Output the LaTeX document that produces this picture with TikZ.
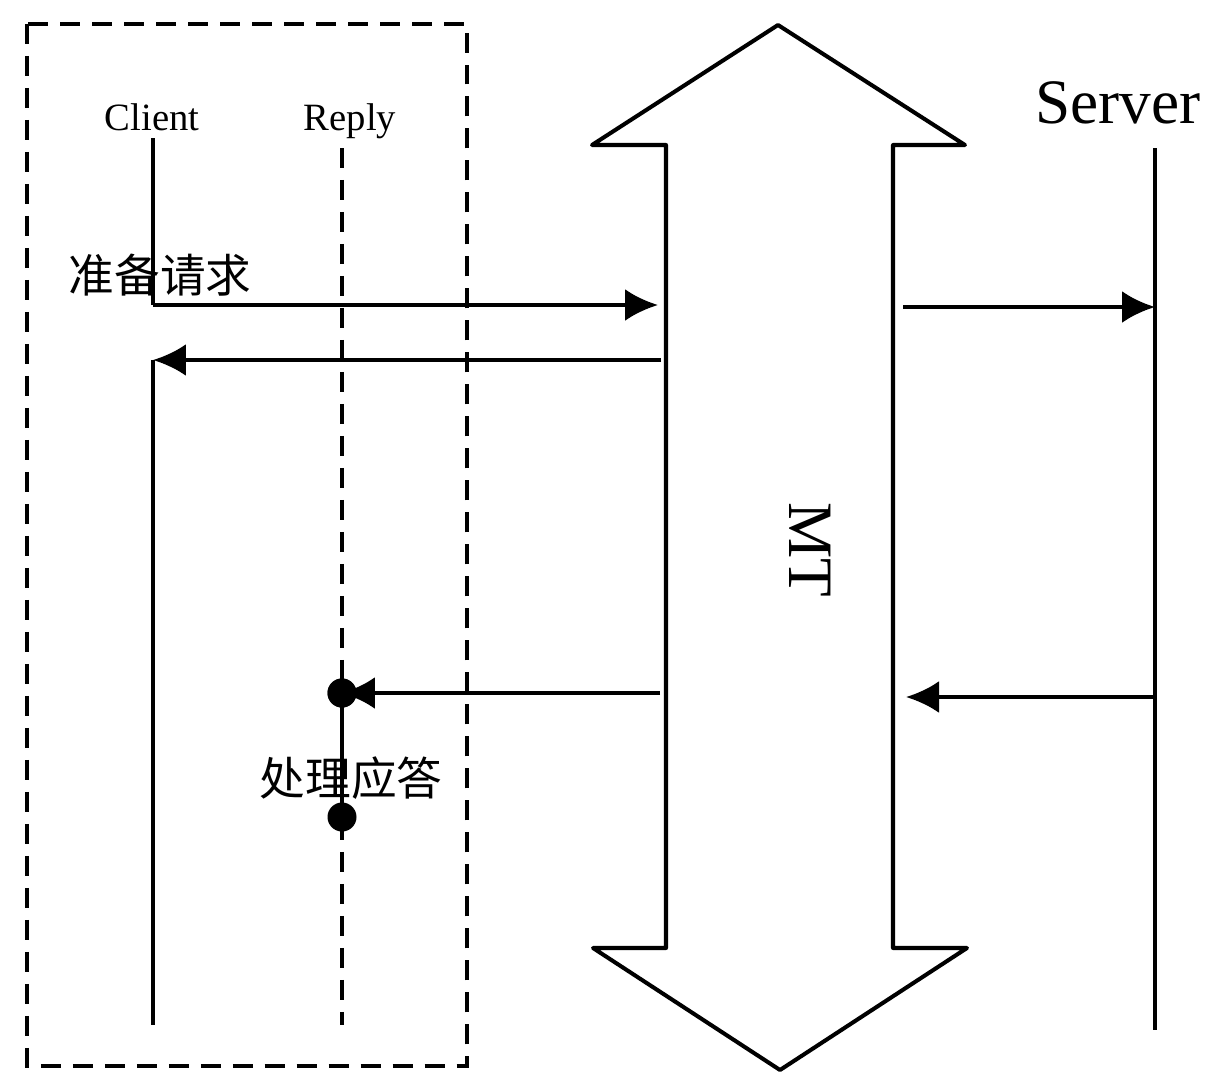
\documentclass[tikz,border=0pt]{standalone}
\usepackage{fontspec}
\setmainfont{Liberation Serif}
\newfontfamily\cjk{Noto Sans CJK SC}
\usetikzlibrary{arrows.meta}
\begin{document}
\begin{tikzpicture}[x=0.02cm,y=-0.02cm,
  solidline/.style={line width=2.3pt},
  dashline/.style={line width=2.3pt,dash pattern=on 0.4cm off 0.24cm},
  arr/.style={solidline,-{Latex[length=0.66cm,width=0.64cm]}},
  lbl/.style={inner sep=0pt,anchor=base,font=\fontsize{22}{26}\selectfont},
  cn/.style={inner sep=0pt,font=\cjk\fontsize{26}{30}\selectfont},
  dot/.style={circle,fill=black,inner sep=0pt,minimum size=0.58cm}]
\useasboundingbox (0,0) rectangle (1206,1072);
% dashed client box
\draw[dashline] (27,24) rectangle (467,1066);
% labels
\node[lbl] (client) at (152,130) {Client};
\node[lbl] (reply) at (350,130) {Reply};
\node[inner sep=0pt,anchor=base,font=\fontsize{36}{40}\selectfont] (server) at (1118,123) {Server};
% coordinates
\coordinate (c0) at (153,138);
\coordinate (c1) at (153,305);
\coordinate (c2) at (153,360);
\coordinate (c3) at (153,1025);
\coordinate (r0) at (342,148);
\coordinate (r1) at (342,1025);
\coordinate (s0) at (1155,148);
\coordinate (s1) at (1155,1030);
\coordinate (mL1) at (658,305);
\coordinate (mL2) at (661,360);
\coordinate (mL3) at (660,693);
\coordinate (mR1) at (903,307);
\coordinate (mR2) at (906,697);
\coordinate (sv1) at (1155,307);
\coordinate (sv2) at (1155,697);
% lifelines
\draw[solidline] (c0) -- (c1);
\draw[solidline] (c2) -- (c3);
\draw[dashline] (r0) -- (r1);
\draw[solidline] (s0) -- (s1);
% MT double arrow
\draw[solidline, line join=round, fill=white] (666,145) -- (592,145) -- (778,25) -- (965,145) -- (893,145)
  -- (893,948) -- (967,948) -- (780,1070) -- (593,948) -- (666,948) -- cycle;
\node[inner sep=0pt,rotate=-90,font=\fontsize{36}{40}\selectfont] (mt) at (810,550) {MT};
% messages
\draw[arr] (c1) -- (mL1);
\draw[arr] (mL2) -- (c2);
\draw[arr] (mR1) -- (sv1);
\draw[arr] (sv2) -- (mR2);
\node[dot] (d1) at (342,693) {};
\node[dot] (d2) at (342,817) {};
\draw[arr] (mL3) -- (d1.center);
\node[dot] at (342,693) {};
\draw[solidline] (d1) -- (d2);
\node[cn] (req) at (160,275) {准备请求};
\node[cn] (proc) at (351,778) {处理应答};
\end{tikzpicture}
\end{document}
